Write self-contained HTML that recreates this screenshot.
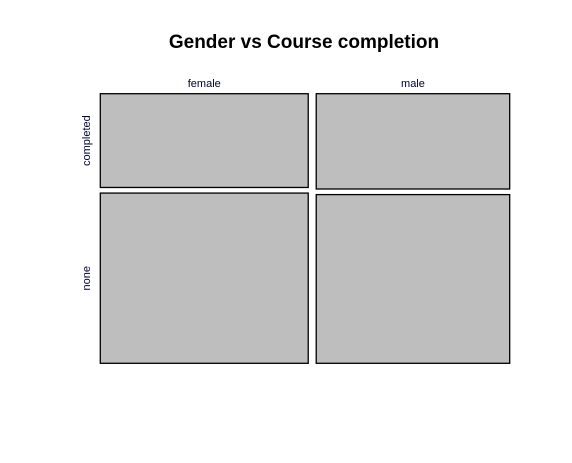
<!DOCTYPE html>
<html><head><meta charset="utf-8"><style>
html,body{margin:0;padding:0;background:#fff;}
svg{display:block;font-family:"Liberation Sans",Arial,sans-serif;}
</style></head><body>
<svg id="chart" width="572" height="463" viewBox="0 0 572 463">
<text x="304" y="48" text-anchor="middle" font-size="19" font-weight="bold">Gender vs Course completion</text>
<g id="marks"></g>
</svg>
<script>
const genders = ["female", "male"];
const statuses = ["completed", "none"];
const completedCounts = [184, 174];
const noneCounts = [334, 308];

const X0 = 100.3, X1 = 509.7, Y0 = 93.7, Y1 = 363.3, GX = 8, GY = 5.6;
const svgNS = "http://www.w3.org/2000/svg";
const g = document.getElementById("marks");
const totals = genders.map((_, i) => completedCounts[i] + noneCounts[i]);
const grand = totals.reduce((a, b) => a + b, 0);
const availW = X1 - X0 - GX * (genders.length - 1);
const availH = Y1 - Y0 - GY;
function xScale(frac) { return frac * availW; }
function yScale(frac) { return frac * availH; }

let x = X0;
genders.forEach((gname, i) => {
  const w = xScale(totals[i] / grand);
  const vals = [completedCounts[i], noneCounts[i]];
  let y = Y0;
  vals.forEach((v, j) => {
    const h = yScale(v / totals[i]);
    const r = document.createElementNS(svgNS, "rect");
    r.setAttribute("x", x); r.setAttribute("y", y);
    r.setAttribute("width", w); r.setAttribute("height", h);
    r.setAttribute("fill", "#bebebe"); r.setAttribute("stroke", "#000"); r.setAttribute("stroke-width", "1.3");
    
    
    g.appendChild(r);
    if (i === 0) {
      const t = document.createElementNS(svgNS, "text");
      const cy = y + h / 2;
      t.setAttribute("x", 90); t.setAttribute("y", cy);
      t.setAttribute("transform", "rotate(-90 90 " + cy + ")");
      t.setAttribute("text-anchor", "middle"); t.setAttribute("font-size", "11");
      t.setAttribute("fill", "#000033");
      t.textContent = statuses[j];
      
      
      g.appendChild(t);
    }
    y += h + GY;
  });
  const lab = document.createElementNS(svgNS, "text");
  lab.setAttribute("x", x + w / 2); lab.setAttribute("y", 87);
  lab.setAttribute("text-anchor", "middle"); lab.setAttribute("font-size", "11");
  lab.setAttribute("fill", "#000033");
  lab.textContent = gname;
  
  
  g.appendChild(lab);
  x += w + GX;
});
</script>
</body></html>
